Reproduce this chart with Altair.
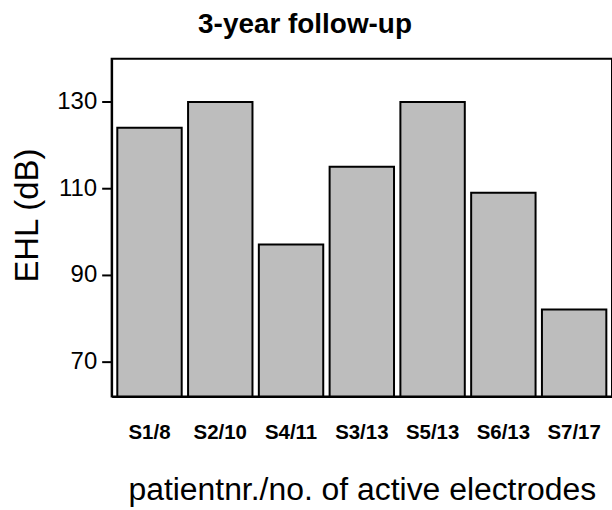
import altair as alt
import pandas as pd

# EHL per patient at the 3-year follow-up
patients = ["S1/8", "S2/10", "S4/11", "S3/13", "S5/13", "S6/13", "S7/17"]
ehl_db = [124, 130, 97, 115, 130, 109, 82]
y_ticks = [70, 90, 110, 130]
y_min, y_max = 61.85, 140

df = pd.DataFrame({"patient": patients, "ehl": ehl_db})

font = "Liberation Sans"

bars = (
    alt.Chart(df)
    .mark_bar(fill="#bdbdbd", stroke="black", strokeWidth=2)
    .encode(
        x=alt.X(
            "patient:N",
            sort=patients,
            scale=alt.Scale(paddingInner=0.09, paddingOuter=0.08),
            axis=alt.Axis(
                title="patientnr./no. of active electrodes",
                labelAngle=0,
                labelFont=font,
                labelFontSize=20.5,
                labelFontWeight="bold",
                labelColor="black",
                labelPadding=26,
                ticks=False,
                domainColor="black",
                domainWidth=2,
                titleFont=font,
                titleFontSize=32,
                titleFontWeight="normal",
                titleColor="black",
                titlePadding=32,
            ),
        ),
        y=alt.Y(
            "ehl:Q",
            scale=alt.Scale(domain=[y_min, y_max], nice=False, zero=False),
            axis=alt.Axis(
                title="EHL (dB)",
                values=y_ticks,
                grid=False,
                labelFont=font,
                labelFontSize=24,
                labelColor="black",
                labelPadding=5,
                tickSize=10,
                tickWidth=2,
                tickColor="black",
                domainColor="black",
                domainWidth=2,
                titleFont=font,
                titleFontSize=33,
                titleFontWeight="normal",
                titleColor="black",
                titlePadding=12,
                titleY=157,
            ),
        ),
        y2=alt.datum(y_min),
    )
)

chart = (
    bars.properties(
        width=502,
        height=339,
        title=alt.TitleParams(
            "3-year follow-up",
            font=font,
            fontSize=28,
            fontWeight="bold",
            color="black",
            anchor="middle",
            dx=-57,
            offset=20,
        ),
        autosize=alt.AutoSizeParams(type="none"),
        padding={"left": 112, "top": 58, "right": 0, "bottom": 113},
        background="white",
    )
    .configure_view(stroke="black", strokeWidth=2)
)

chart.save("out.html", embed_options={"renderer": "svg", "actions": False})
